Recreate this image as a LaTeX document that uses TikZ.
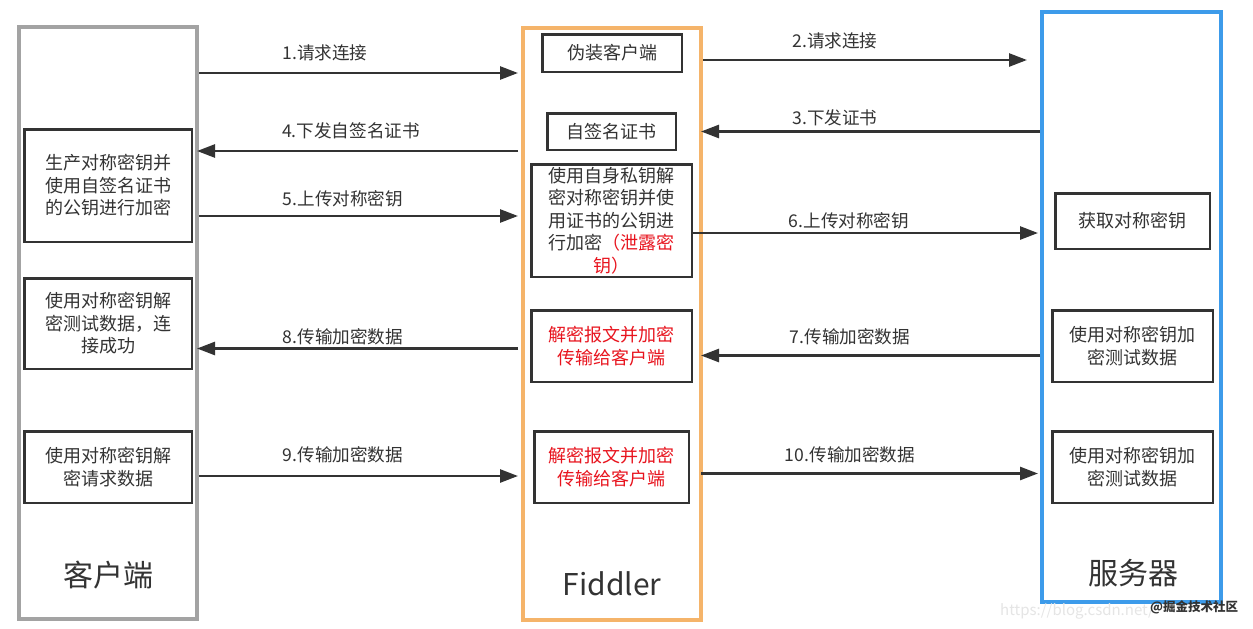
\documentclass[tikz,border=0pt]{standalone}
\usepackage{fontspec}
\setmainfont{Noto Sans CJK SC}
\usetikzlibrary{arrows.meta}
\definecolor{ink}{HTML}{333333}
\definecolor{alert}{HTML}{E8141E}
\definecolor{lanegray}{HTML}{A3A3A3}
\definecolor{laneorange}{HTML}{F5B46A}
\definecolor{laneblue}{HTML}{3D9BEA}
\begin{document}
\begin{tikzpicture}[x=1pt,y=-1pt,
  lane/.style={draw, line width=4pt, inner sep=0pt, fill=none},
  stepbox/.style={draw=ink, line width=2.5pt, inner sep=1pt, align=center,
    text=ink, font=\fontsize{18}{22.5}\selectfont},
  redbox/.style={stepbox, text=alert},
  lbl/.style={text=ink, inner sep=0pt, font=\fontsize{17.6}{20}\selectfont},
  biglbl/.style={text=ink, inner sep=0pt, font=\fontsize{30}{34}\selectfont},
  arr/.style={draw=ink, line width=2.6pt, -{Triangle[length=18pt,width=13pt]}}
]
\useasboundingbox[fill=white] (0,0) rectangle (1253,629);

% lanes
\node[lane, draw=lanegray, minimum width=178pt, minimum height=592pt] (cli) at (108,323) {};
\node[lane, draw=laneorange, minimum width=178pt, minimum height=592pt] (fid) at (612,324) {};
\node[lane, draw=laneblue, minimum width=179pt, minimum height=590pt] (srv) at (1131.5,307) {};

\node[biglbl] (clilbl) at (108,575) {客户端};
\node[biglbl] (fidlbl) at (612,584) {Fiddler};
\node[biglbl] (srvlbl) at (1133,573) {服务器};

% client boxes
\node[stepbox, minimum width=167.5pt, minimum height=112.5pt] (c1) at (108,185.5)
  {生产对称密钥并\\使用自签名证书\\的公钥进行加密};
\node[stepbox, minimum width=167.5pt, minimum height=90.5pt] (c2) at (108,323.5)
  {使用对称密钥解\\密测试数据，连\\接成功};
\node[stepbox, minimum width=167.5pt, minimum height=71.5pt] (c3) at (108,467)
  {使用对称密钥解\\密请求数据};

% fiddler boxes
\node[stepbox, minimum width=139.5pt, minimum height=37.5pt] (f1) at (612,53) {伪装客户端};
\node[stepbox, minimum width=128.5pt, minimum height=36.5pt] (f2) at (611.5,131.5) {自签名证书};
\node[stepbox, minimum width=160.5pt, minimum height=112.5pt] (f3) at (611.5,220.5)
  {使用自身私钥解\\密对称密钥并使\\用证书的公钥进\\行加密{\color{alert}（泄露密}\\{\color{alert}钥）}};
\node[redbox, minimum width=160.5pt, minimum height=71.5pt] (f4) at (611.5,346)
  {解密报文并加密\\传输给客户端};
\node[redbox, minimum width=154.5pt, minimum height=71.5pt] (f5) at (611.5,467)
  {解密报文并加密\\传输给客户端};

% server boxes
\node[stepbox, minimum width=154.5pt, minimum height=55.5pt] (s1) at (1132.5,221) {获取对称密钥};
\node[stepbox, minimum width=160.5pt, minimum height=71.5pt] (s2) at (1132.5,346)
  {使用对称密钥加\\密测试数据};
\node[stepbox, minimum width=160.5pt, minimum height=71.5pt] (s3) at (1132.5,467)
  {使用对称密钥加\\密测试数据};

% arrow heights
\coordinate (y1) at (0,73);
\coordinate (y2) at (0,60);
\coordinate (y3) at (0,131.5);
\coordinate (y4) at (0,151);
\coordinate (y5) at (0,216);
\coordinate (y6) at (0,233);
\coordinate (y7) at (0,355.5);
\coordinate (y8) at (0,348.5);
\coordinate (y9) at (0,476);
\coordinate (y10) at (0,473.5);

% arrows
\draw[arr, shorten >=3pt] (cli.east |- y1) -- (fid.west |- y1);
\draw[arr, shorten >=13pt] (fid.east |- y2) -- (srv.west |- y2);
\draw[arr, shorten >=-2pt] (srv.west |- y3) -- (fid.east |- y3);
\draw[arr, shorten <=3pt, shorten >=-2pt] (fid.west |- y4) -- (cli.east |- y4);
\draw[arr, shorten >=3pt] (cli.east |- y5) -- (fid.west |- y5);
\draw[arr, shorten >=2pt] (f3.east |- y6) -- (srv.west |- y6);
\draw[arr, shorten >=-2pt] (srv.west |- y7) -- (fid.east |- y7);
\draw[arr, shorten <=3pt, shorten >=-2pt] (fid.west |- y8) -- (cli.east |- y8);
\draw[arr, shorten >=3pt] (cli.east |- y9) -- (fid.west |- y9);
\draw[arr, shorten <=-2pt, shorten >=2pt] (fid.east |- y10) -- (srv.west |- y10);

% arrow labels
\node[lbl] (l1) at (325,53) {1.请求连接};
\node[lbl] (l2) at (835,41) {2.请求连接};
\node[lbl] (l3) at (835,118) {3.下发证书};
\node[lbl] (l4) at (351,131) {4.下发自签名证书};
\node[lbl] (l5) at (343,199) {5.上传对称密钥};
\node[lbl] (l6) at (849,221) {6.上传对称密钥};
\node[lbl] (l7) at (850,337) {7.传输加密数据};
\node[lbl] (l8) at (343,337) {8.传输加密数据};
\node[lbl] (l9) at (343,455) {9.传输加密数据};
\node[lbl] (l10) at (850,455) {10.传输加密数据};

% watermark
\node[text=black!10, inner sep=0pt, font=\fontsize{15}{15}\selectfont, anchor=west] (wm1) at (1000,611) {https://blog.csdn.net/};
\node[text=ink, inner sep=0pt, font=\fontsize{12.5}{13}\selectfont\bfseries, anchor=west] (wm2) at (1150,607) {@掘金技术社区};
\end{tikzpicture}
\end{document}
